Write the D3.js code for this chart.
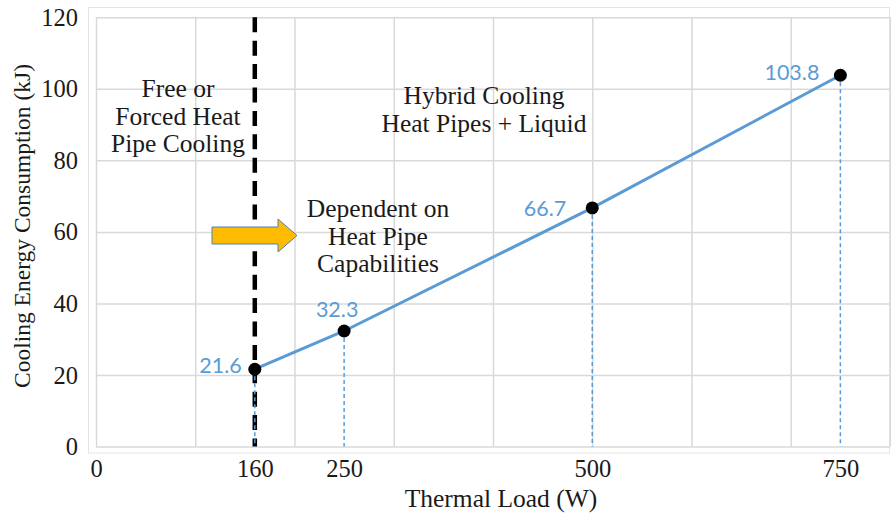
<!DOCTYPE html>
<html>
<head>
<meta charset="utf-8">
<script src="https://cdn.jsdelivr.net/npm/d3@7"></script>
<style>
  html, body { margin: 0; padding: 0; background: #ffffff; }
  svg { display: block; }
  .serif { font-family: "Liberation Serif", "Times New Roman", serif; fill: #1a1a1a; }
  .val { font-family: Lato, "Open Sans", sans-serif; fill: #5b9bd5; }
</style>
</head>
<body>
<svg id="chart" width="891" height="516"></svg>
<script>
// Cooling energy consumption versus thermal load
const thermalLoad = [160, 250, 500, 750];           // W
const coolingEnergy = [21.6, 32.3, 66.7, 103.8];    // kJ
const xTickValues = [0, 160, 250, 500, 750];
const yTickValues = [0, 20, 40, 60, 80, 100, 120];
const xGridValues = [0, 100, 200, 300, 400, 500, 600, 700, 800];
const boundaryLoad = 160;                            // W, limit of heat-pipe-only cooling

const leftNote = ["Free or", "Forced Heat", "Pipe Cooling"];
const rightNote = ["Hybrid Cooling", "Heat Pipes + Liquid"];
const middleNote = ["Dependent on", "Heat Pipe", "Capabilities"];

const svg = d3.select("#chart");

const plot = { left: 96, right: 890, top: 17.3, bottom: 446.5 };

const x = d3.scaleLinear().domain([0, 800]).range([plot.left, plot.right]);
const y = d3.scaleLinear().domain([0, 120]).range([plot.bottom, plot.top]);

// light outer frame of the chart area
svg.append("rect")
  .attr("x", 88.5).attr("y", 7.5)
  .attr("width", 801).attr("height", 445.5)
  .attr("fill", "none").attr("stroke", "#e4e4e4").attr("stroke-width", 1);

// gridlines
svg.append("g")
  .attr("transform", `translate(0,${plot.bottom})`)
  .call(d3.axisBottom(x).tickValues(xGridValues).tickSize(-(plot.bottom - plot.top)).tickFormat(""))
  .call(g => g.select(".domain").remove())
  .call(g => g.selectAll(".tick line").attr("stroke", "#d9d9d9").attr("stroke-width", 1.5));

svg.append("g")
  .attr("transform", `translate(${plot.left},0)`)
  .call(d3.axisLeft(y).tickValues(yTickValues).tickSize(-(plot.right - plot.left)).tickFormat(""))
  .call(g => g.select(".domain").remove())
  .call(g => g.selectAll(".tick line").attr("stroke", "#d9d9d9").attr("stroke-width", 1.5));

// axis labels
svg.append("g")
  .attr("transform", `translate(${plot.left - 18},0)`)
  .call(d3.axisLeft(y).tickValues(yTickValues).tickSize(0).tickPadding(0))
  .call(g => g.select(".domain").remove())
  .call(g => g.selectAll(".tick text")
    .attr("class", "serif").attr("font-size", 24.5).attr("dy", "0.33em"));

svg.append("g")
  .attr("transform", `translate(0,${plot.bottom})`)
  .call(d3.axisBottom(x).tickValues(xTickValues).tickSize(0).tickPadding(0))
  .call(g => g.select(".domain").remove())
  .call(g => g.selectAll(".tick text")
    .attr("class", "serif").attr("font-size", 24.5).attr("dy", 0).attr("y", 30));

// axis titles
svg.append("text")
  .attr("class", "serif")
  .attr("font-size", 25.5)
  .attr("text-anchor", "middle")
  .attr("x", 501).attr("y", 507)
  .text("Thermal Load (W)");

svg.append("text")
  .attr("class", "serif")
  .attr("font-size", 23.5)
  .attr("text-anchor", "middle")
  .attr("transform", "translate(30,226) rotate(-90)")
  .text("Cooling Energy Consumption (kJ)");

// dashed boundary at the heat-pipe limit
svg.append("line")
  .attr("x1", x(boundaryLoad)).attr("x2", x(boundaryLoad))
  .attr("y1", plot.top).attr("y2", plot.bottom)
  .attr("stroke", "#000").attr("stroke-width", 4.5)
  .attr("stroke-dasharray", "15 8.4");

// drop lines from each point to the axis
svg.append("g").selectAll("line")
  .data(thermalLoad)
  .join("line")
  .attr("x1", d => x(d)).attr("x2", d => x(d))
  .attr("y1", (d, i) => y(coolingEnergy[i])).attr("y2", plot.bottom)
  .attr("stroke", "#5b9bd5").attr("stroke-width", 1.5)
  .attr("stroke-dasharray", "4 3");

// energy curve
const pts = thermalLoad.map((d, i) => [d, coolingEnergy[i]]);
svg.append("path")
  .datum(pts)
  .attr("fill", "none")
  .attr("stroke", "#5b9bd5")
  .attr("stroke-width", 3)
  .attr("d", d3.line().x(d => x(d[0])).y(d => y(d[1])));

svg.append("g").selectAll("circle")
  .data(pts)
  .join("circle")
  .attr("cx", d => x(d[0])).attr("cy", d => y(d[1]))
  .attr("r", 6.5).attr("fill", "#000");

// value labels
const labelPlacement = [
  { anchor: "end", dx: -13, dy: -4 },
  { anchor: "middle", dx: -7, dy: -22 },
  { anchor: "end", dx: -26, dy: 0 },
  { anchor: "end", dx: -21, dy: -3 }
];
svg.append("g").selectAll("text")
  .data(pts)
  .join("text")
  .attr("class", "val")
  .attr("font-size", 21.5)
  .attr("text-anchor", (d, i) => labelPlacement[i].anchor)
  .attr("x", (d, i) => x(d[0]) + labelPlacement[i].dx)
  .attr("y", (d, i) => y(d[1]) + labelPlacement[i].dy)
  .attr("dy", "0.36em")
  .text(d => d[1].toFixed(1));

// region annotations
function note(lines, cx, firstBaseline, step) {
  svg.append("text")
    .attr("class", "serif")
    .attr("font-size", 25.5)
    .attr("text-anchor", "middle")
    .selectAll("tspan")
    .data(lines)
    .join("tspan")
    .attr("x", cx)
    .attr("y", (d, i) => firstBaseline + i * step)
    .text(d => d);
}
note(leftNote, 178, 97, 27.5);
note(rightNote, 484, 104, 28);
note(middleNote, 378, 217, 27.5);

// arrow pointing into the hybrid region
const arrowShape = [[212, 227], [278, 227], [278, 219], [297, 235.5], [278, 252], [278, 244], [212, 244]];
svg.append("path")
  .attr("d", d3.line()(arrowShape) + "Z")
  .attr("fill", "#ffbb00")
  .attr("stroke", "#4f81bd")
  .attr("stroke-width", 1);
</script>
</body>
</html>
